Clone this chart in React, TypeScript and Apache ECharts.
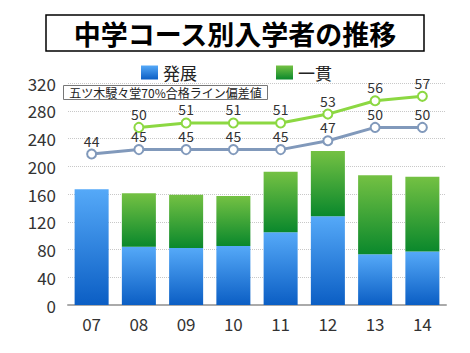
import React, { useEffect, useRef } from "react";
import * as echarts from "echarts";

const years = ["07", "08", "09", "10", "11", "12", "13", "14"];
const hatten = [167, 84, 82, 85, 105, 128, 73, 77];
const ikkan = [null, 77, 77, 72, 87, 94, 114, 108];
const devHatten = [44, 45, 45, 45, 45, 47, 50, 50];
const devIkkan = [null, 50, 51, 51, 51, 53, 56, 57];
const FONT = "'Noto Sans CJK JP', 'Noto Sans', sans-serif";

export default function App() {
  const ref = useRef<HTMLDivElement>(null);
  useEffect(() => {
    const chart = echarts.init(ref.current!, null, { renderer: "svg" });
    const blueGrad = new echarts.graphic.LinearGradient(0, 0, 0, 1, [
      { offset: 0, color: "#55a9f8" },
      { offset: 1, color: "#0b5ec4" },
    ]);
    const greenGrad = new echarts.graphic.LinearGradient(0, 0, 0, 1, [
      { offset: 0, color: "#74c143" },
      { offset: 1, color: "#0a882c" },
    ]);
    const lineLabel = {
      show: true,
      position: "top",
      distance: 1,
      fontSize: 14,
      lineHeight: 14,
      color: "#333",
      fontFamily: FONT,
    };
    chart.setOption({
      animation: false,
      textStyle: { fontFamily: FONT },
      grid: { left: 68, right: 24, top: 83, bottom: 48 },
      legend: {
        data: ["発展", "一貫"],
        left: 136,
        top: 59,
        icon: "rect",
        itemWidth: 17,
        itemHeight: 14,
        itemGap: 79,
        textStyle: { fontSize: 17, lineHeight: 16, color: "#222", fontFamily: FONT },
      },
      graphic: [
        {
          type: "rect",
          shape: { x: 46, y: 15, width: 378, height: 36 },
          style: { fill: "#fff", stroke: "#000", lineWidth: 1.5 },
        },
        {
          type: "text",
          x: 235,
          y: 33,
          style: {
            text: "中学コース別入学者の推移",
            fontSize: 27,
            fontWeight: "bold",
            fontFamily: FONT,
            fill: "#000",
            align: "center",
            verticalAlign: "middle",
          },
        },
        {
          type: "rect",
          z: 10,
          shape: { x: 63.5, y: 85.5, width: 204, height: 14 },
          style: { fill: "#fff", stroke: "#777", lineWidth: 1 },
        },
        {
          type: "text",
          z: 11,
          x: 165.5,
          y: 92.5,
          style: {
            text: "五ツ木駸々堂70%合格ライン偏差値",
            fontSize: 12,
            lineHeight: 11,
            fontFamily: FONT,
            fill: "#222",
            align: "center",
            verticalAlign: "middle",
          },
        },
      ],
      xAxis: {
        type: "category",
        data: years,
        axisTick: { show: false },
        axisLine: { lineStyle: { color: "#aaa", width: 2 } },
        axisLabel: { fontSize: 17, color: "#333", margin: 10, fontFamily: FONT },
      },
      yAxis: [
        {
          type: "value",
          min: 0,
          max: 320,
          interval: 40,
          axisLabel: { fontSize: 17, color: "#333", margin: 12, fontFamily: FONT },
          splitLine: { lineStyle: { type: "dotted", color: "#c8c8c8" } },
          axisLine: { show: false },
          axisTick: { show: false },
        },
        {
          type: "value",
          min: 10,
          max: 60,
          show: false,
          splitLine: { show: false },
        },
      ],
      series: [
        {
          name: "発展",
          type: "bar",
          stack: "s",
          data: hatten,
          barWidth: "72%",
          itemStyle: { color: blueGrad },
        },
        {
          name: "一貫",
          type: "bar",
          stack: "s",
          data: ikkan,
          barWidth: "72%",
          itemStyle: { color: greenGrad },
        },
        {
          name: "発展偏差値",
          type: "line",
          yAxisIndex: 1,
          data: devHatten,
          symbol: "emptyCircle",
          symbolSize: 9,
          lineStyle: { color: "#8199bb", width: 3 },
          itemStyle: { color: "#8199bb", borderWidth: 2.5 },
          label: lineLabel,
          z: 5,
        },
        {
          name: "一貫偏差値",
          type: "line",
          yAxisIndex: 1,
          data: devIkkan,
          symbol: "emptyCircle",
          symbolSize: 9,
          lineStyle: { color: "#8cd842", width: 3 },
          itemStyle: { color: "#8cd842", borderWidth: 2.5 },
          label: lineLabel,
          z: 5,
        },
      ],
    });
    return () => chart.dispose();
  }, []);
  return (
    <div
      ref={ref}
      style={{ position: "absolute", left: 0, top: 0, width: 470, height: 353 }}
    />
  );
}
